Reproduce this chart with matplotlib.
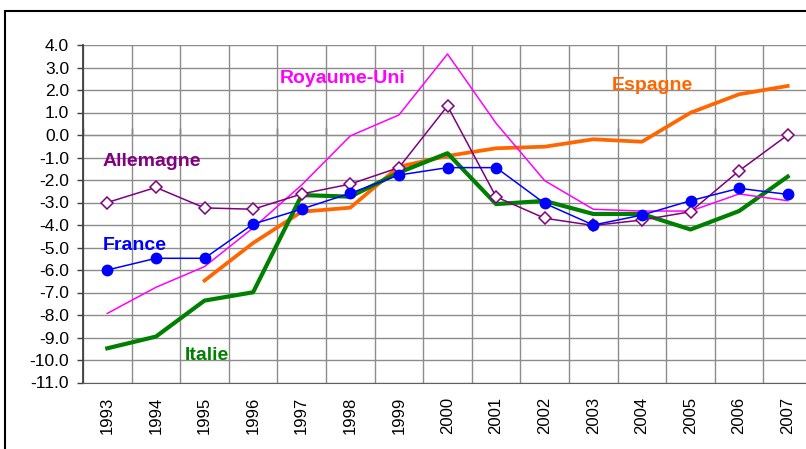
import matplotlib
matplotlib.use("Agg")
import matplotlib.pyplot as plt
from matplotlib.patches import Rectangle
import numpy as np

# Deficit public (% du PIB), 1993-2007
years = [str(y) for y in range(1993, 2008)]

allemagne = [-3.0, -2.33, -3.24, -3.3, -2.62, -2.18, -1.45, 1.29, -2.75, -3.7,
             -4.02, -3.78, -3.41, -1.59, 0.0]
france = [-6.0, -5.48, -5.48, -3.96, -3.29, -2.59, -1.78, -1.45, -1.45, -3.04,
          -4.0, -3.56, -2.92, -2.37, -2.64]
italie = [-9.48, -8.96, -7.36, -6.99, -2.67, -2.74, -1.67, -0.81, -3.07, -2.93,
          -3.51, -3.51, -4.2, -3.38, -1.85]
espagne = [None, None, -6.47, -4.8, -3.41, -3.23, -1.41, -0.93, -0.59, -0.52,
           -0.19, -0.3, 0.99, 1.81, 2.18]
royaume_uni = [-7.93, -6.77, -5.85, -4.13, -2.22, -0.04, 0.89, 3.6, 0.52, -2.03,
               -3.3, -3.38, -3.38, -2.62, -2.92]

yticks = np.arange(-11, 5, 1)

plt.rcParams['font.family'] = ['Liberation Sans', 'DejaVu Sans']

fig = plt.figure(figsize=(8.06, 4.49), dpi=100)
ax = fig.add_axes([83 / 806, 1 - 382.5 / 449, 729 / 806, (382.5 - 45) / 449])

x = np.arange(len(years))
esp = np.array([np.nan if v is None else v for v in espagne])

ax.plot(x, esp, color='#ff6600', lw=2.7, zorder=3)
ax.plot(x, italie, color='#008000', lw=3.0, zorder=3)
ax.plot(x, royaume_uni, color='#ff00ff', lw=1.1, zorder=4)
ax.plot(x, allemagne, color='#800080', lw=1.1, marker='D', markersize=6,
        markerfacecolor='white', markeredgecolor='#800080', markeredgewidth=1.1, zorder=5)
ax.plot(x, france, color='#0000ff', lw=1.1, marker='o', markersize=7.5,
        markerfacecolor='#0000ff', markeredgecolor='#0000ff', zorder=6)

ax.set_xlim(-0.5, len(years) - 0.5)
ax.set_ylim(-11, 4)
ax.set_yticks(yticks)
ax.set_yticklabels([f"{v:.1f}" for v in yticks], fontsize=12.5)
ax.set_xticks(x)
ax.set_xticklabels(years, rotation=90, fontsize=12)
ax.tick_params(axis='x', length=0, pad=10.5)
ax.tick_params(axis='y', direction='out', length=4.5, width=1, color='#404040', pad=5.5)

ax.set_xticks(np.arange(-0.5, len(years), 1), minor=True)
ax.tick_params(axis='x', which='minor', length=0)
ax.grid(True, which='minor', axis='x', color='#8c8c8c', lw=1)
ax.grid(True, which='major', axis='y', color='#8c8c8c', lw=1)
ax.set_axisbelow(True)

for side in ['top', 'right']:
    ax.spines[side].set_visible(False)
ax.spines['left'].set_color('#404040')
ax.spines['left'].set_linewidth(1.3)
ax.spines['bottom'].set_color('#606060')

# category axis drawn across the zero line
sec = ax.secondary_xaxis(11 / 15)
sec.set_xticks(np.arange(-0.5, len(years), 1))
sec.set_xticklabels([])
sec.tick_params(direction='out', length=5, width=1, color='#202020')
sec.spines['bottom'].set_color('#202020')
sec.spines['bottom'].set_linewidth(1.2)

lab = dict(fontsize=14, fontweight='bold')
ax.text(3.55, 2.53, 'Royaume-Uni', color='#ff00ff', ha='left', va='center', **lab)
ax.text(10.38, 2.22, 'Espagne', color='#ff6600', ha='left', va='center', **lab)
ax.text(-0.09, -1.19, 'Allemagne', color='#800080', ha='left', va='center', **lab)
ax.text(-0.09, -4.89, 'France', color='#0000ff', ha='left', va='center', **lab)
ax.text(1.6, -9.81, 'Italie', color='#008000', ha='left', va='center', **lab)

fig.patches.append(Rectangle((5 / 806, -0.1), 1.2, 1.1 - 11 / 449, transform=fig.transFigure,
                             fill=False, edgecolor='black', lw=1.5))

fig.savefig('out.png', dpi=100)
